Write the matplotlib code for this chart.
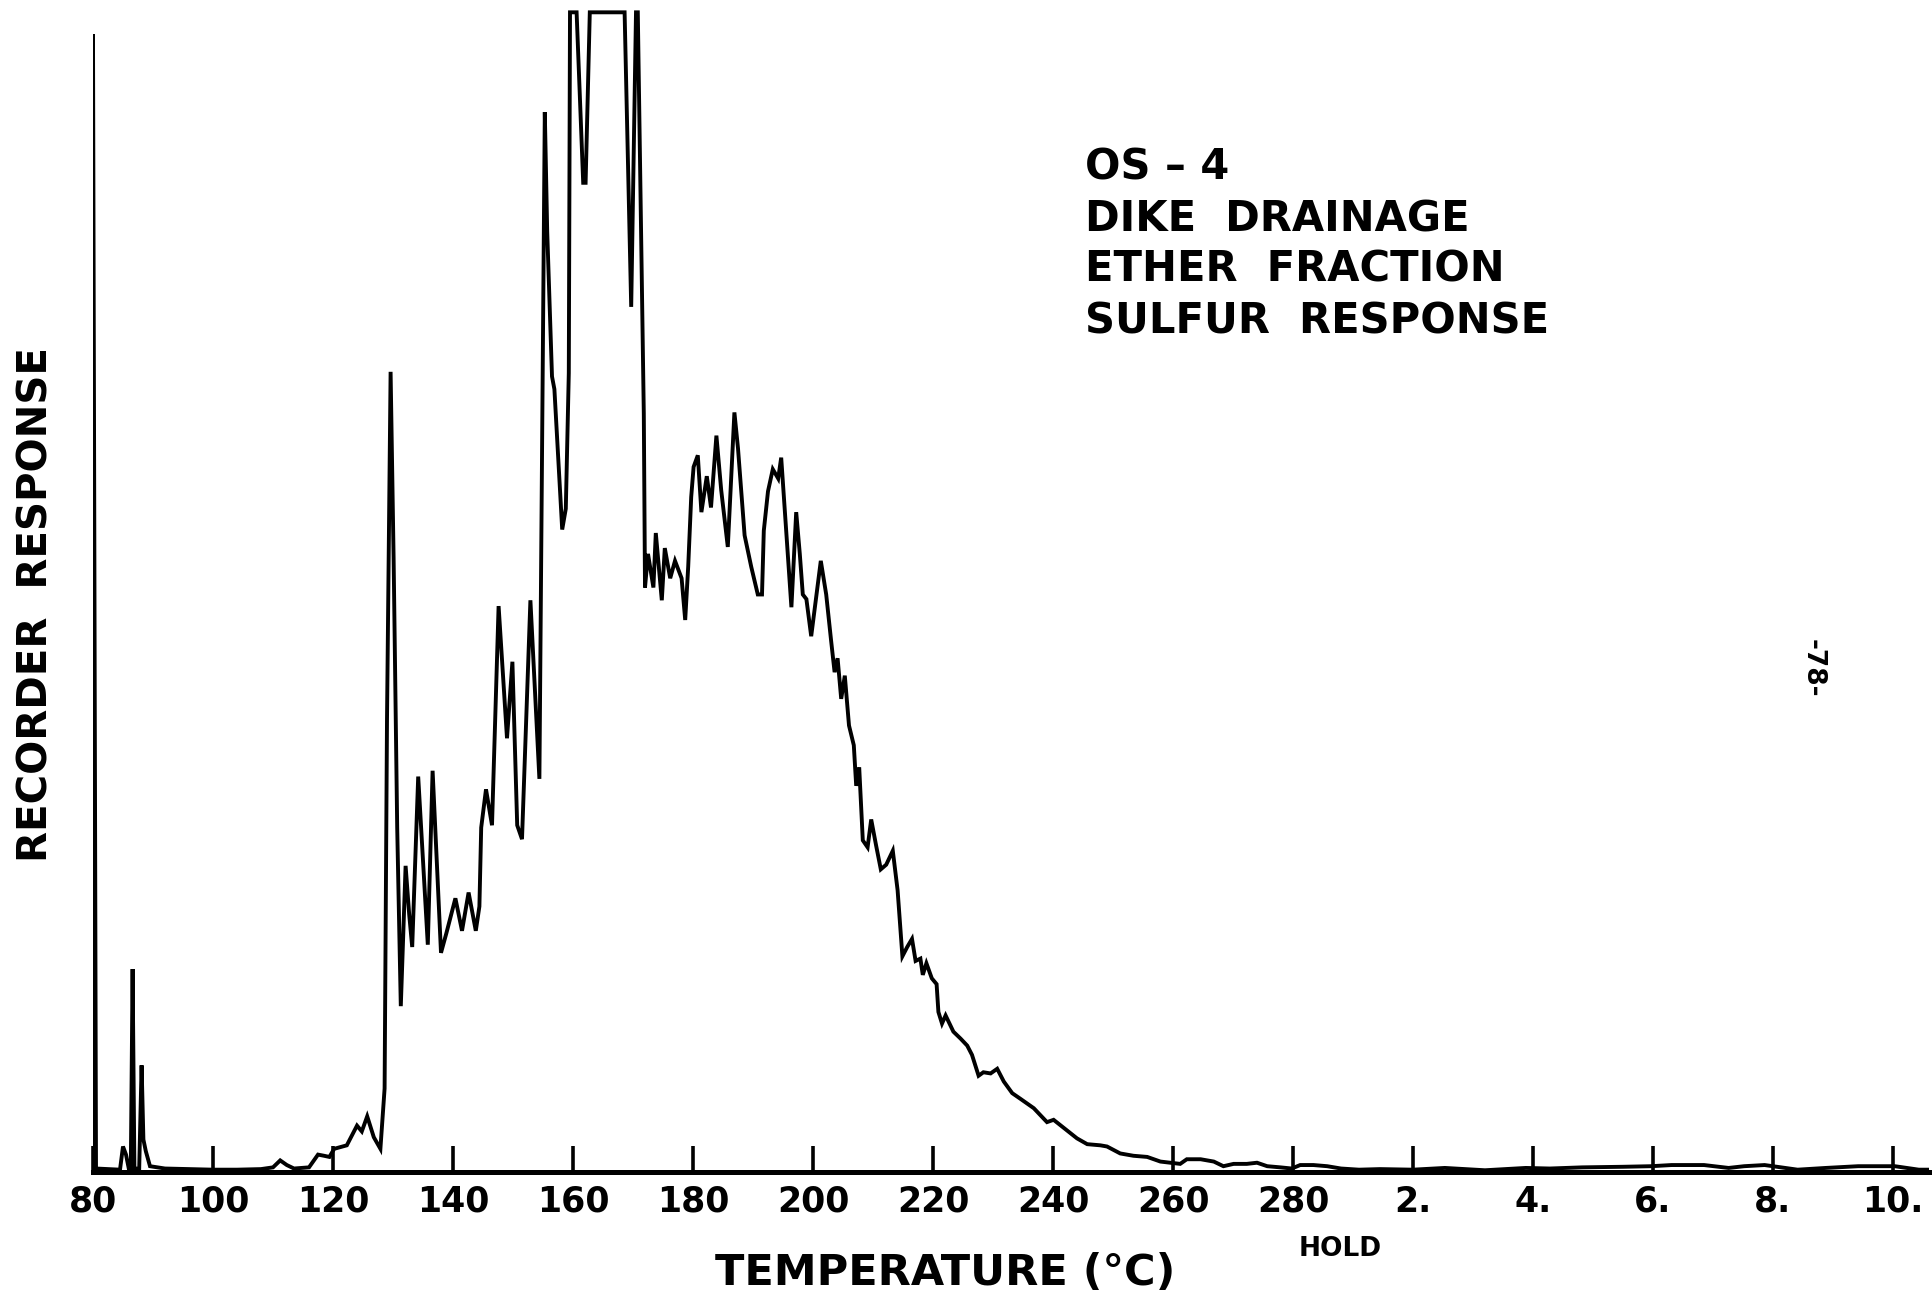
import matplotlib
matplotlib.use('Agg')
import matplotlib.pyplot as plt

# trace (x = temperature / hold position, y = % of full scale)
temps = [80.0, 80.0, 80.5, 84.5, 85.0, 85.5, 86.0, 86.3, 86.6, 86.9, 87.7, 88.1, 88.4, 88.8, 89.5,
         92, 96, 100, 104, 108, 110, 111.2, 112.3, 113.5, 116, 117.5, 118.5, 119.4, 120.2,
         122.3, 124.0, 124.8, 125.7, 126.8, 127.9, 128.6, 129.0, 129.6, 130.1, 130.7, 131.3,
         132.1, 132.7, 133.2, 134.2, 135.8, 136.6, 138.0, 138.9, 140.4, 141.5, 142.6, 143.8,
         144.4, 144.7, 145.5, 146.5, 147.6, 149.0, 149.9, 150.7, 151.5, 152.9, 154.4, 155.3,
         155.7, 156.5, 156.9, 158.2, 158.8, 159.3, 159.5, 160.6, 161.7, 162.1, 162.8, 168.6,
         169.7, 170.5, 170.8, 171.8, 172.0, 172.5, 173.4, 173.8, 174.8, 175.3, 176.2, 177.0,
         178.1, 178.7, 179.2, 179.7, 180.1, 180.8, 181.4, 182.3, 183.0, 183.9, 184.7, 185.8,
         186.9, 187.5, 188.6, 189.7, 190.8, 191.5, 191.8, 192.5, 193.3, 194.2, 194.7, 195.6,
         196.4, 197.2, 197.8, 198.3, 198.9, 199.7, 201.3, 202.2, 203.0, 203.6, 204.1, 204.7,
         205.3, 206.0, 206.8, 207.2, 207.7, 208.3, 209.1, 209.7, 210.5, 211.3, 212.2, 213.3,
         214.1, 214.9, 215.7, 216.5, 217.1, 217.9, 218.3, 218.9, 219.8, 220.6, 220.9, 221.5,
         222.1, 223.4, 224.6, 225.7, 226.5, 227.6, 228.4, 229.6, 230.7, 231.8, 233.2, 234.6,
         236.8, 239.0, 240.1, 242.3, 244.0, 245.7, 247.9, 249.0, 251.2, 253.4, 255.7, 257.9,
         259.6, 261.2, 262.3, 264.6, 266.8, 268.4, 270.1, 272.3, 274.0, 275.7, 277.9, 279.8,
         281.2, 283.4, 285.7, 288, 291, 294.5, 300, 305.3, 312, 318.8, 322.8, 328.2, 335,
         339.7, 343.1, 348.5, 352.6, 355.2, 358.6, 364.1, 368.8, 374.2, 380.3, 384.3, 386]
response = [0.0, 98.1, 0.3, 0.2, 2.2, 1.5, 0.2, 0.3, 17.5, 0.3, 0.3, 9.2, 2.8, 1.8, 0.5,
            0.3, 0.25, 0.2, 0.2, 0.25, 0.4, 1.0, 0.6, 0.3, 0.4, 1.5, 1.4, 1.3, 2.0,
            2.3, 4.0, 3.5, 4.8, 3.0, 2.0, 7.2, 39, 69, 53, 29.7, 14.3,
            26.4, 22.2, 19.4, 34.1, 19.6, 34.6, 18.9, 20.6, 23.6, 20.8, 24.1, 20.8,
            22.9, 29.7, 33.0, 29.9, 48.8, 37.4, 44.0, 29.9, 28.7, 49.3, 33.9, 91.4,
            81.1, 68.6, 67.5, 55.4, 57.2, 68.9, 100, 100, 85.3, 85.3, 100, 100,
            74.6, 100, 100, 65.4, 50.4, 53.3, 50.4, 55.1, 49.3, 53.8, 51.2, 52.7,
            51.2, 47.6, 52.2, 58.2, 60.8, 61.8, 56.9, 60.0, 57.3, 63.5, 58.8, 53.9,
            65.5, 62.4, 54.9, 52.2, 49.8, 49.8, 55.3, 58.7, 60.6, 59.8, 61.6, 54.7,
            48.7, 56.9, 53.3, 49.8, 49.4, 46.2, 52.7, 49.8, 45.9, 43.1, 44.3, 40.8,
            42.8, 38.5, 36.8, 33.3, 34.9, 28.6, 28.0, 30.4, 28.2, 26.1, 26.5, 27.7,
            24.3, 18.6, 19.4, 20.1, 18.2, 18.4, 17.0, 18.0, 16.7, 16.2, 13.8, 12.8,
            13.5, 12.1, 11.5, 10.9, 10.1, 8.3, 8.6, 8.5, 8.9, 7.8, 6.8, 6.3,
            5.5, 4.3, 4.5, 3.6, 2.9, 2.4, 2.3, 2.2, 1.6, 1.4, 1.3, 0.9,
            0.8, 0.7, 1.1, 1.1, 0.9, 0.5, 0.7, 0.7, 0.8, 0.5, 0.4, 0.3,
            0.6, 0.6, 0.5, 0.3, 0.2, 0.25, 0.2, 0.35, 0.15, 0.35, 0.3, 0.4, 0.45,
            0.5, 0.6, 0.6, 0.35, 0.5, 0.6, 0.2, 0.35, 0.5, 0.5, 0.2, 0.2]

tick_pos = [80, 100, 120, 140, 160, 180, 200, 220, 240, 260, 280, 300, 320, 340, 360, 380]
tick_labels = ['80', '100', '120', '140', '160', '180', '200', '220', '240', '260', '280',
               '2.', '4.', '6.', '8.', '10.']
info_lines = ['OS – 4', 'DIKE  DRAINAGE', 'ETHER  FRACTION', 'SULFUR  RESPONSE']

plt.rcParams['font.family'] = ['DejaVu Sans']
plt.rcParams['font.weight'] = 'bold'

W, H = 1933, 1299
fig = plt.figure(figsize=(W / 100, H / 100), dpi=100)
ax = fig.add_axes([93 / W, (H - 1172) / H, (1929 - 93) / W, (1172 - 10) / H])

ax.plot(temps, response, color='black', lw=2.8, solid_joinstyle='miter')
ax.set_xlim(80, 386)
ax.set_ylim(0, 100.2)

for side in ['left', 'top', 'right']:
    ax.spines[side].set_visible(False)
ax.spines['bottom'].set_linewidth(3.6)

ax.set_yticks([])
ax.set_xticks(tick_pos)
ax.set_xticklabels(tick_labels, fontsize=25, fontweight='bold')
ax.tick_params(axis='x', direction='in', length=19, width=2.6, pad=9)

# axis titles
fig.text(945 / W, 1 - 1273 / H, 'TEMPERATURE (°C)', fontsize=31, ha='center', va='center')
fig.text(37 / W, 1 - 604 / H, 'RECORDER  RESPONSE', fontsize=29, rotation=90,
         ha='center', va='center')
fig.text(1340 / W, 1 - 1249 / H, 'HOLD', fontsize=19, ha='center', va='center')

# sample description
for i, line in enumerate(info_lines):
    fig.text(1085 / W, 1 - (168 + 51 * i) / H, line, fontsize=30, ha='left', va='center')

# page number
fig.text(1813 / W, 1 - 668 / H, '-78-', fontsize=19, rotation=-90, ha='center', va='center')

plt.savefig('out.png', dpi=100)
